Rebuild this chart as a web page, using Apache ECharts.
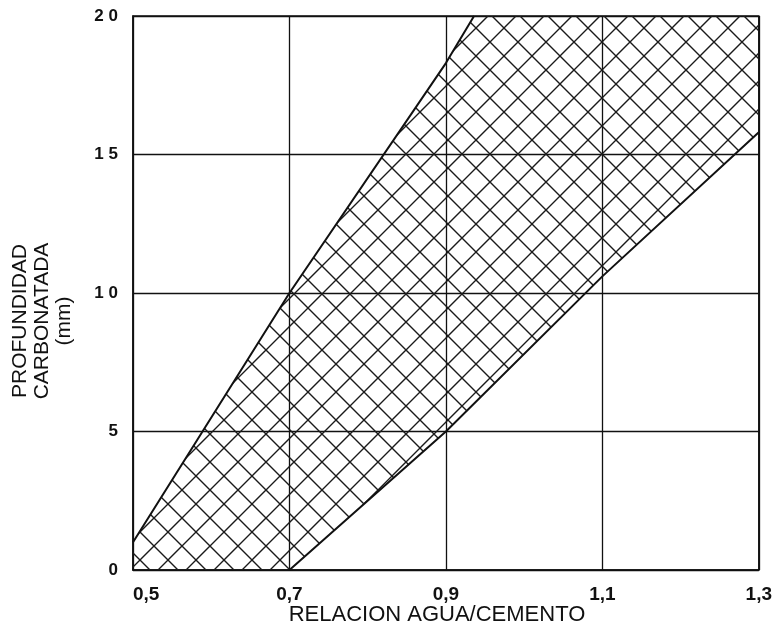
<!DOCTYPE html>
<html>
<head>
<meta charset="utf-8">
<title>Profundidad carbonatada</title>
<script src="https://cdn.jsdelivr.net/npm/echarts@6/dist/echarts.min.js"></script>
<style>
  html, body { margin: 0; padding: 0; background: #fff; }
  #chart { width: 775px; height: 632px; }
</style>
</head>
<body>
<div id="chart"></div>
<script>
// ticks
var xTicks = [0.5, 0.7, 0.9, 1.1, 1.3];
var yTicks = [0, 5, 10, 15, 20];

// upper edge of the band (relacion a/c, mm)
var upperX = [0.5, 0.7, 0.9, 0.936];
var upperY = [1.0, 10.0, 18.3, 20];

// lower edge of the band
var lowerX = [0.7, 0.9, 1.1, 1.3];
var lowerY = [0, 5.0, 10.6, 15.8];

var xMin = xTicks[0], xMax = xTicks[xTicks.length - 1];
var yMin = yTicks[0], yMax = yTicks[yTicks.length - 1];

function pairs(xs, ys) {
  return xs.map(function (x, i) { return [x, ys[i]]; });
}

// cross hatch tile
function hatchTile() {
  var s = 28;
  var c = document.createElement("canvas");
  c.width = s;
  c.height = s;
  var ctx = c.getContext("2d");
  ctx.strokeStyle = "#1a1a1a";
  ctx.lineWidth = 1.4;
  ctx.beginPath();
  ctx.moveTo(-2, -2); ctx.lineTo(s + 2, s + 2);
  ctx.moveTo(-2, s + 2); ctx.lineTo(s + 2, -2);
  ctx.stroke();
  return c;
}
var tile = hatchTile();

// band outline: corner, upper edge, corner, lower edge reversed
var band = [[xMin, yMin]]
  .concat(pairs(upperX, upperY))
  .concat([[xMax, yMax]])
  .concat(pairs(lowerX, lowerY).reverse());

var myChart = echarts.init(document.getElementById("chart"), null, { renderer: "canvas" });

var labelFont = "'Liberation Sans', Arial, sans-serif";

var option = {
  animation: false,
  backgroundColor: "#fff",
  grid: {
    left: 133,
    right: 13,
    top: 16,
    bottom: 62,
    show: true,
    borderColor: "#111",
    borderWidth: 1.5,
    backgroundColor: "transparent"
  },
  xAxis: {
    type: "value",
    min: xMin,
    max: xMax,
    interval: 0.2,
    axisTick: { show: false },
    axisLine: { lineStyle: { color: "#111", width: 1.5 } },
    splitLine: { show: true, lineStyle: { color: "#111", width: 1.3 } },
    axisLabel: {
      color: "#111",
      fontSize: 19,
      fontWeight: "bold",
      fontFamily: labelFont,
      margin: 15,
      alignMinLabel: "left",
      formatter: function (v) { return v.toFixed(1).replace(".", ","); }
    }
  },
  yAxis: {
    type: "value",
    min: yMin,
    max: yMax,
    interval: 5,
    axisTick: { show: false },
    axisLine: { show: true, lineStyle: { color: "#111", width: 1.5 } },
    splitLine: { show: true, lineStyle: { color: "#111", width: 1.3 } },
    axisLabel: {
      color: "#111",
      fontSize: 17,
      fontWeight: "bold",
      fontFamily: labelFont,
      margin: 15,
      formatter: function (v) { return String(v).split("").join(" "); }
    }
  },
  graphic: [
    {
      type: "text",
      x: 42,
      y: 321,
      rotation: Math.PI / 2,
      style: {
        text: "PROFUNDIDAD\nCARBONATADA\n(mm)",
        fill: "#111",
        font: "21px " + labelFont,
        align: "center",
        verticalAlign: "middle",
        lineHeight: 22
      }
    },
    {
      type: "text",
      x: 437,
      y: 615,
      style: {
        text: "RELACION AGUA/CEMENTO",
        fill: "#111",
        font: "22px " + labelFont,
        align: "center",
        verticalAlign: "middle"
      }
    }
  ],
  series: [
    {
      type: "custom",
      name: "banda",
      data: [0],
      silent: true,
      z: 2,
      renderItem: function (params, api) {
        var pts = band.map(function (p) { return api.coord(p); });
        return {
          type: "polygon",
          shape: { points: pts },
          style: {
            fill: { image: tile, repeat: "repeat" },
            stroke: null
          }
        };
      }
    },
    {
      type: "line",
      name: "superior",
      data: pairs(upperX, upperY),
      showSymbol: false,
      silent: true,
      z: 3,
      lineStyle: { color: "#111", width: 2 }
    },
    {
      type: "line",
      name: "inferior",
      data: pairs(lowerX, lowerY),
      showSymbol: false,
      silent: true,
      z: 3,
      lineStyle: { color: "#111", width: 2 }
    }
  ]
};

myChart.setOption(option);
window.addEventListener("resize", function () {
  myChart.resize();
});
</script>
</body>
</html>
